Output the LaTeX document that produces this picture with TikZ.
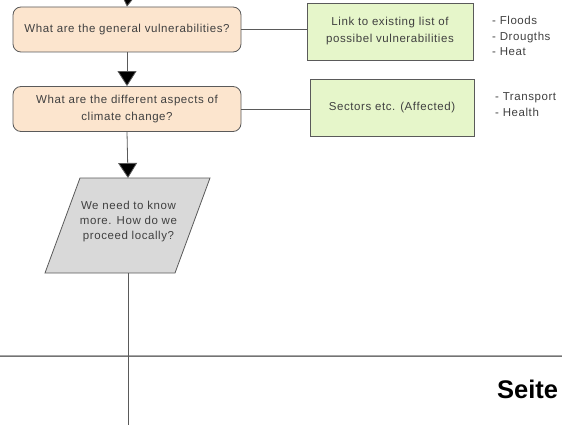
\documentclass[tikz,border=0pt]{standalone}
\usepackage{fontspec}
\setmainfont{Liberation Sans}[LetterSpace=5]
\newfontfamily\seitefont{Liberation Sans}[BoldFont={Liberation Sans Bold}]
\usetikzlibrary{arrows.meta}
\definecolor{peach}{RGB}{252,229,206}
\definecolor{leaf}{RGB}{230,246,202}
\definecolor{para}{RGB}{217,217,217}
\definecolor{edge}{RGB}{90,90,90}
\tikzset{
  qbox/.style={draw=edge, fill=peach, rounded corners=8pt, line width=0.8pt, minimum width=228pt, minimum height=45pt, align=center, font=\fontsize{11.5}{17}\selectfont, text=black!75, inner sep=0pt},
  gbox/.style={draw=edge, fill=leaf, line width=0.8pt, align=center, font=\fontsize{11.5}{17}\selectfont, text=black!75, inner sep=0pt},
  lst/.style={anchor=west, align=left, font=\fontsize{11.5}{15.5}\selectfont, text=black!75, inner sep=0pt},
  conn/.style={draw=edge, line width=0.8pt},
  flow/.style={draw=edge, line width=0.8pt, -{Triangle[width=19pt,length=15pt,fill=black]}},
}
\begin{document}
\begin{tikzpicture}[x=1pt,y=-1pt]
\useasboundingbox (0,0) rectangle (562,425);
\coordinate (top) at (128,-2);
\node[qbox] (q1) at (127,29.5) {What are the general vulnerabilities?};
\node[qbox] (q2) at (127,109) {What are the different aspects of\\climate change?};
\node[gbox, minimum width=166pt, minimum height=57pt] (g1) at (390,31.5) {Link to existing list of\\possibel vulnerabilities};
\node[gbox, minimum width=164pt, minimum height=57pt] (g2) at (392,108) {Sectors etc. (Affected)};
\node[lst] (l1) at (492,36) {- Floods\\- Drougths\\- Heat};
\node[lst] (l2) at (495,104.5) {- Transport\\- Health};
% parallelogram
\coordinate (pTL) at (80,178);
\coordinate (pTR) at (210,178);
\coordinate (pBR) at (175,273);
\coordinate (pBL) at (45,273);
\fill[para] (pTL) -- (pTR) -- (pBR) -- (pBL) -- cycle;
\draw[edge, line width=0.8pt] (pTL) -- (pTR) -- (pBR) -- (pBL) -- cycle;
\coordinate (pT) at (128,178);
\coordinate (pB) at (128,273);
\node[align=center, font=\fontsize{11.5}{15}\selectfont, text=black!75, inner sep=0pt] (ptxt) at (128.5,222) {We need to know\\more. How do we\\proceed locally?};
\coordinate (bot) at (128,426);
% page separator
\coordinate (sepL) at (0,356);
\coordinate (sepR) at (562,356);
\draw[black!35, line width=2.2pt] (sepL) -- (sepR);
\draw[black!55, line width=0.7pt] (sepL) -- (sepR);
\node[anchor=base west, font=\seitefont\bfseries\fontsize{25.5}{30}\selectfont, inner sep=0pt] (seite) at (497,398) {Seite};
% connectors
\draw[flow] (top) -- (q1.north);
\draw[flow] (q1.south) -- (q2.north);
\draw[flow] (q2.south) -- (pT);
\draw[conn] (pB) -- (bot);
\draw[conn] (q1.east) -- (q1.east -| g1.west);
\draw[conn] (q2.east) -- (q2.east -| g2.west);
\end{tikzpicture}
\end{document}
